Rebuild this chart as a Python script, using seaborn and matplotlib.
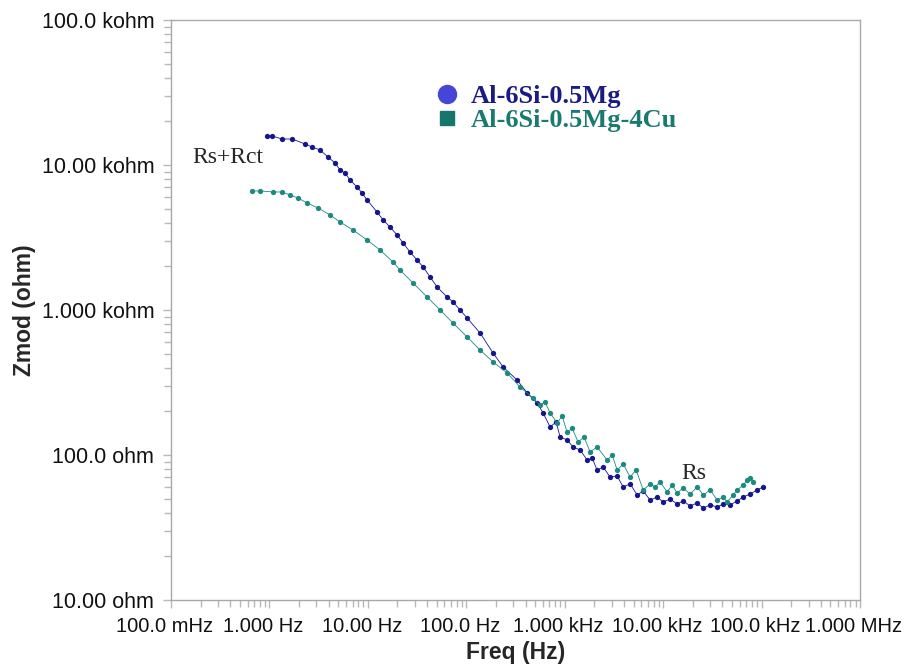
import numpy as np
import pandas as pd
import matplotlib
matplotlib.use("Agg")
import matplotlib.pyplot as plt
import matplotlib.transforms as mtransforms
from matplotlib.lines import Line2D
from matplotlib.ticker import FixedLocator, FixedFormatter, LogLocator, NullFormatter
import seaborn as sns

# Al-6Si-0.5Mg
freq_mg = [0.945, 1.063, 1.343, 1.697, 2.30, 2.71, 3.27, 3.94, 4.64, 5.22, 5.86, 6.59, 7.77,
           8.73, 9.81, 12.4, 14.3, 16.8, 19.8, 22.8, 26.8, 31.6, 36.4, 42.9, 50.5, 63.8, 73.4,
           86.5, 102, 138, 187, 237, 328, 415, 525, 603, 711, 818, 898, 1057, 1217, 1434, 1690,
           1898, 2133, 2455, 2893, 3409, 3924, 4624, 5447, 6269, 7387, 8696, 10000, 11780,
           13870, 15960, 18800, 22170, 25520, 30060, 35400, 40740, 47980, 56500, 65000, 76600,
           90200, 103800]
zmod_mg = [15850, 15850, 15110, 15110, 13960, 13300, 12690, 11350, 10320, 9237, 8810, 7880, 7050,
           6410, 5740, 4740, 4175, 3735, 3290, 2897, 2512, 2213, 1980, 1690, 1442, 1230, 1135,
           1000, 881, 694, 505, 404, 329, 268, 228, 195, 156, 169, 133, 127, 113.5, 108.3, 92.4,
           95.3, 78.8, 82.6, 70.5, 71.7, 60.2, 63.1, 53.0, 56.5, 48.9, 51.3, 47.4, 49.7,
           45.9, 48.2, 44.5, 46.7, 43.1, 45.2, 43.8, 45.9, 45.2, 48.2, 51.3, 53.8,
           57.4, 60.2]

# Al-6Si-0.5Mg-4Cu
freq_cu = [0.665, 0.803, 1.088, 1.343, 1.62, 1.953, 2.41, 3.12, 4.13, 5.22, 7.07, 9.81, 13.3,
           18.0, 21.2, 28.8, 40.0, 54.2, 73.4, 102, 138, 187, 260, 352, 477, 562, 632, 711,
           838, 941, 1057, 1189, 1368, 1574, 1811, 2133, 2698, 3034, 3409, 3924, 4624, 5318,
           6269, 7387, 8300, 9322, 10980, 12350, 13870, 15960, 18800, 22170, 25520, 30060,
           35400, 40740, 44670, 51400, 56500, 65000, 71400, 76600, 82200]
zmod_cu = [6620, 6620, 6515, 6515, 6210, 5920, 5470, 5050, 4520, 4045, 3563, 3040, 2593,
           2143, 1887, 1535, 1230, 1000, 813, 651, 530, 438, 368, 294, 247, 221, 232, 195,
           166, 186, 144, 153, 123, 133, 105, 113.5, 92.4, 100, 78.8, 86.7, 70.5, 78.8,
           57.4, 63.1, 60.2, 65.2, 55.6, 62.1, 54.7, 59.2, 53.8, 60.2, 53.0, 57.4,
           48.9, 51.3, 47.4, 53.0, 57.4, 62.1, 67.2, 69.4, 65.2]

labels = ["Al-6Si-0.5Mg", "Al-6Si-0.5Mg-4Cu"]
x_ticks = [0.1, 1, 10, 100, 1e3, 1e4, 1e5, 1e6]
x_ticklabels = ["100.0 mHz", "1.000 Hz", "10.00 Hz", "100.0 Hz", "1.000 kHz",
                "10.00 kHz", "100.0 kHz", "1.000 MHz"]
y_ticks = [10, 100, 1e3, 1e4, 1e5]
y_ticklabels = ["10.00 ohm", "100.0 ohm", "1.000 kohm", "10.00 kohm", "100.0 kohm"]

df = pd.concat([
    pd.DataFrame({"freq": freq_mg, "zmod": zmod_mg, "alloy": labels[0]}),
    pd.DataFrame({"freq": freq_cu, "zmod": zmod_cu, "alloy": labels[1]}),
])

sns.set_style("white")
plt.rcParams["font.family"] = ["Liberation Sans", "DejaVu Sans"]

pal = {labels[0]: "#15158e", labels[1]: "#1d8a80"}
fig = plt.figure(figsize=(9.09, 6.68), dpi=100)
ax = fig.add_axes([0.1881, 0.1018, 0.758, 0.8683])

sns.lineplot(data=df, x="freq", y="zmod", hue="alloy", palette=pal, sort=False,
             estimator=None, linewidth=0.6, marker="o", markersize=3.8,
             markeredgewidth=0, legend=False, ax=ax)

ax.set_xscale("log")
ax.set_yscale("log")
ax.set_xlim(0.1, 1e6)
ax.set_ylim(10, 1e5)

ax.xaxis.set_major_locator(FixedLocator(x_ticks))
ax.xaxis.set_major_formatter(FixedFormatter(x_ticklabels))
ax.yaxis.set_major_locator(FixedLocator(y_ticks))
ax.yaxis.set_major_formatter(FixedFormatter(y_ticklabels))
ax.xaxis.set_minor_locator(LogLocator(base=10, subs=np.arange(2, 10)))
ax.yaxis.set_minor_locator(LogLocator(base=10, subs=np.arange(2, 10)))
ax.xaxis.set_minor_formatter(NullFormatter())
ax.yaxis.set_minor_formatter(NullFormatter())

ax.tick_params(which="both", direction="out", color="#b8b8b8", width=1,
               labelcolor="#111111", bottom=True, left=True)
ax.tick_params(axis="x", labelsize=14.5)
ax.tick_params(axis="y", labelsize=15.5)
ax.tick_params(which="major", length=6, pad=6)
ax.tick_params(which="minor", length=5)
for s in ax.spines.values():
    s.set_color("#a8a8a8")
    s.set_linewidth(1)

# x tick labels sit slightly left of their ticks in the original
shift = mtransforms.ScaledTranslation(-6 / 100, 0, fig.dpi_scale_trans)
for lab in ax.get_xticklabels():
    lab.set_transform(lab.get_transform() + shift)

ax.set_xlabel("Freq (Hz)", fontsize=16.5, fontweight="bold", labelpad=4)
ax.set_ylabel("Zmod (ohm)", fontsize=16.5, fontweight="bold", labelpad=4)

serif = ["Liberation Serif", "DejaVu Serif"]
ax.text(0.163, 1.135e4, "Rs+Rct", family=serif, fontsize=17, ha="left", va="center")
ax.text(2.06e4, 74, "Rs", family=serif, fontsize=17, ha="center", va="center")

handles = [Line2D([], [], linestyle="none", marker="o", markersize=13, color="#4545d8"),
           Line2D([], [], linestyle="none", marker="s", markersize=10, color="#16766c")]
leg = ax.legend(handles, labels, loc="upper left", bbox_to_anchor=(0.357, 0.907),
                frameon=False, handletextpad=0.15, labelspacing=0.02, borderaxespad=0,
                handlelength=1.5,
                prop={"family": serif, "weight": "bold", "size": 19})
for t, c in zip(leg.get_texts(), ["#1b1b85", "#1a7a70"]):
    t.set_color(c)

fig.savefig("out.png", dpi=100)
